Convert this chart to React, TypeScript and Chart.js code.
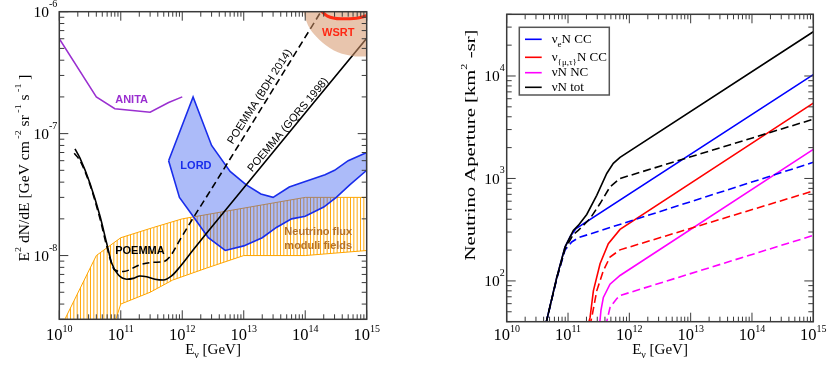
import React, { useEffect, useRef } from "react";
import { Chart, registerables } from "chart.js";

Chart.register(...registerables);

// ================= LEFT PANEL DATA (E [GeV], E^2 dN/dE) =================
const anitaE = [1e10, 4e10, 8e10, 3e11, 6e11, 1e12];
const anitaF = [6e-7, 2e-7, 1.6e-7, 1.5e-7, 1.8e-7, 2e-7];

const lordUpperE = [6e11, 1.5e12, 3e12, 6e12, 1.1e13, 1.9e13, 3e13, 5.5e13, 1e14, 2.1e14, 3e14, 5e14, 1e15];
const lordUpperF = [6e-8, 2e-7, 8e-8, 4.9e-8, 3.8e-8, 3.2e-8, 3e-8, 3.65e-8, 4.05e-8, 4.6e-8, 5e-8, 6e-8, 7e-8];
const lordLowerE = [6e11, 9e11, 1.5e12, 2.65e12, 5e12, 1e13, 2e13, 3.4e13, 6e13, 1e14, 2e14, 3.2e14, 5.3e14, 1e15];
const lordLowerF = [6e-8, 3e-8, 2.1e-8, 1.4e-8, 1.1e-8, 1.2e-8, 1.4e-8, 1.7e-8, 2e-8, 2.1e-8, 2.5e-8, 3e-8, 3.8e-8, 5e-8];

const bandUpperE = [1.03e10, 4e10, 1e11, 3.4e11, 1e12, 1e14, 1e15];
const bandUpperF = [2.5e-9, 1e-8, 1.4e-8, 1.7e-8, 2e-8, 3e-8, 3e-8];
const bandLowerE = [7.4e10, 1e11, 3e11, 7e11, 2.5e12, 1e13, 1e14, 1e15];
const bandLowerF = [2.5e-9, 4e-9, 5e-9, 6.3e-9, 7.9e-9, 1e-8, 1e-8, 1.1e-8];

const gqrsE = [1.8e10, 2.17e10, 3.16e10, 4.6e10, 5.9e10, 7.1e10, 9.1e10, 1.25e11, 1.6e11, 2.05e11, 2.64e11, 3.6e11, 4.9e11, 6.7e11, 9.2e11, 1.5e12, 2.5e12, 1e15];
const gqrsF = [7.5e-8, 6.3e-8, 3.9e-8, 2.1e-8, 1.26e-8, 8.7e-9, 6.95e-9, 6.4e-9, 6.5e-9, 6.8e-9, 6.7e-9, 6.4e-9, 6.3e-9, 6.8e-9, 8.1e-9, 1.11e-8, 1.53e-8, 6.05e-7];

const bdhE = [1.75e10, 2.17e10, 3.16e10, 4.6e10, 5.9e10, 8e10, 1.1e11, 2.05e11, 3.4e11, 4.9e11, 6.3e11, 9.2e11, 1.5e12, 2.5e12, 1.8e14];
const bdhF = [6.9e-8, 6.0e-8, 3.8e-8, 2.0e-8, 1.2e-8, 7.6e-9, 7.4e-9, 8.4e-9, 8.8e-9, 8.9e-9, 9.8e-9, 1.35e-8, 2.03e-8, 3.05e-8, 1e-6];

const wsrtE = [1.8e14, 2.3e14, 3.8e14, 6.8e14, 1e15];
const wsrtF = [1.02e-6, 9.2e-7, 8.75e-7, 8.85e-7, 9.25e-7];
const wsrtRegionE = [8.5e13, 9.3e13, 1.2e14, 1.9e14, 3.4e14, 6.5e14, 1e15, 1.5e15, 1.5e15, 8.5e13];
const wsrtRegionF = [1.3e-6, 1e-6, 7.2e-7, 5.6e-7, 4.65e-7, 4.3e-7, 4.3e-7, 4.3e-7, 2e-6, 2e-6];

// ================= RIGHT PANEL DATA (E [GeV], aperture km^2 sr) =================
const totE = [4.35e10, 6.55e10, 8.93e10, 1.22e11, 1.47e11, 2.02e11, 2.94e11, 4.28e11, 5.48e11, 7.05e11, 1e15];
const totA = [38, 108, 214, 311, 348, 445, 685, 1119, 1403, 1607, 2.7e4];
const totDashE = [4.35e10, 6.55e10, 8.93e10, 1.22e11, 1.47e11, 2.29e11, 3.33e11, 4.84e11, 7.05e11, 1e15];
const totDashA = [38, 106, 205, 285, 311, 406, 569, 828, 1000, 3785];
const eccE = [4.35e10, 6.55e10, 8.93e10, 1.1e11, 1.35e11, 1e15];
const eccA = [38, 108, 214, 275, 325, 1.03e4];
const eccDashE = [4.35e10, 6.55e10, 8.93e10, 1.15e11, 1.5e11, 1e15];
const eccDashA = [38, 105, 200, 240, 265, 1436];
const mtE = [2.1e11, 2.29e11, 2.59e11, 3.33e11, 4.54e11, 7.05e11, 1e15];
const mtA = [36, 44, 80, 147, 231, 318, 5430];
const mtDashE = [2.25e11, 2.44e11, 2.94e11, 3.77e11, 4.84e11, 7.05e11, 1e15];
const mtDashA = [36, 44, 80, 126, 171, 201, 755];
const ncE = [3.25e11, 3.45e11, 3.77e11, 4.84e11, 7.05e11, 1e15];
const ncA = [36, 52, 69, 93, 113, 1923];
const ncDashE = [4.1e11, 4.84e11, 6.22e11, 7.05e11, 1e15];
const ncDashA = [36, 55, 67, 72, 278];

// ================= AXES =================
const xDecades = [10, 11, 12, 13, 14, 15];
const leftYDecades = [-8, -7, -6];
const rightYDecades = [2, 3, 4];
const leftXRange = [1e10, 1e15];
const leftYRange = [3e-9, 1e-6];
const rightYRange = [40, 40000];

type Seg = { t: string; k?: "sup" | "sub" };

const SERIF = '"Liberation Serif", "Times New Roman", serif';
const SANS = '"Liberation Sans", Arial, sans-serif';

const xTitleSegs: Seg[] = [{ t: "E" }, { t: "\u03bd", k: "sub" }, { t: " [GeV]" }];
const leftYTitleSegs: Seg[] = [
  { t: "E" }, { t: "2", k: "sup" }, { t: " dN/dE [GeV cm" }, { t: " -2", k: "sup" },
  { t: " sr" }, { t: " -1", k: "sup" }, { t: " s" }, { t: " -1", k: "sup" }, { t: " ]" },
];
const rightYTitleSegs: Seg[] = [{ t: "Neutrino Aperture [km" }, { t: "2", k: "sup" }, { t: " -sr]" }];

const legendSegs: Seg[][] = [
  [{ t: "\u03bd" }, { t: "e", k: "sub" }, { t: "N CC" }],
  [{ t: "\u03bd" }, { t: "{\u03bc,\u03c4}", k: "sub" }, { t: "N CC" }],
  [{ t: "\u03bdN NC" }],
  [{ t: "\u03bdN tot" }],
];

type Note = { text: string; e: number; f: number; color: string; bold: boolean; rot?: number };
const leftNotes: Note[] = [
  { text: "ANITA", e: 1.5e11, f: 1.89e-7, color: "#9a2fd0", bold: true },
  { text: "LORD", e: 1.67e12, f: 5.45e-8, color: "rgb(25,45,235)", bold: true },
  { text: "POEMMA", e: 2.05e11, f: 1.1e-8, color: "#000", bold: true },
  { text: "Neutrino flux", e: 1.63e14, f: 1.56e-8, color: "#b4722a", bold: true },
  { text: "moduli fields", e: 1.63e14, f: 1.19e-8, color: "#b4722a", bold: true },
  { text: "WSRT", e: 3.44e14, f: 6.65e-7, color: "rgb(255,40,20)", bold: true },
  { text: "POEMMA (BDH 2014)", e: 1.83e13, f: 2.01e-7, color: "#000", bold: false, rot: -57.5 },
  { text: "POEMMA (GQRS 1998)", e: 5.3e13, f: 1.18e-7, color: "#000", bold: false, rot: -50 },
];

function pts(xs: number[], ys: number[]) {
  return xs.map((x, i) => ({ x, y: ys[i] }));
}
function polygon(ux: number[], uy: number[], lx: number[], ly: number[]) {
  return [...pts(ux, uy), ...pts(lx, ly).reverse()];
}

function fontFor(seg: Seg, size: number, family: string, small: number) {
  return `${seg.k ? small : size}px ${family}`;
}
function richWidth(ctx: CanvasRenderingContext2D, segs: Seg[], size: number, family: string, small: number) {
  let w = 0;
  for (const s of segs) {
    ctx.font = fontFor(s, size, family, small);
    w += ctx.measureText(s.t).width;
  }
  return w;
}
type RichOpt = { size: number; small: number; family: string; align: "left" | "center" | "right"; sup: number; sub: number };
function drawRich(ctx: CanvasRenderingContext2D, segs: Seg[], x: number, y: number, o: RichOpt) {
  const w = richWidth(ctx, segs, o.size, o.family, o.small);
  let cx = o.align === "center" ? x - w / 2 : o.align === "right" ? x - w : x;
  ctx.textAlign = "left";
  ctx.textBaseline = "alphabetic";
  for (const s of segs) {
    ctx.font = fontFor(s, o.size, o.family, o.small);
    const dy = s.k === "sup" ? -o.sup : s.k === "sub" ? o.sub : 0;
    ctx.fillText(s.t, cx, y + dy);
    cx += ctx.measureText(s.t).width;
  }
  return w;
}

function logTicks(min: number, max: number) {
  const out: { v: number; major: boolean }[] = [];
  const k0 = Math.floor(Math.log10(min) + 1e-9);
  const k1 = Math.ceil(Math.log10(max) - 1e-9);
  for (let k = k0; k <= k1; k++) {
    for (let m = 1; m <= 9; m++) {
      const v = m * Math.pow(10, k);
      if (v >= min * 0.9999 && v <= max * 1.0001) out.push({ v, major: m === 1 });
    }
  }
  return out;
}

type PanelCfg = {
  yDecades: number[];
  yTitle: Seg[];
  yTitleX: number;
  yTitleY: number;
  yTitleLen: number;
  yTitleSize: number;
};

function axesPlugin(cfg: PanelCfg) {
  return {
    id: "frameAxes",
    afterDraw(chart: any) {
      const ctx: CanvasRenderingContext2D = chart.ctx;
      const a = chart.chartArea;
      const xs = chart.scales.x;
      const ys = chart.scales.y;
      ctx.save();
      ctx.strokeStyle = "#3a3a3a";
      ctx.lineWidth = 1;
      ctx.beginPath();
      for (const t of logTicks(xs.min, xs.max)) {
        const px = xs.getPixelForValue(t.v);
        const L = t.major ? 9 : 5;
        ctx.moveTo(px, a.bottom);
        ctx.lineTo(px, a.bottom - L);
        ctx.moveTo(px, a.top);
        ctx.lineTo(px, a.top + L);
      }
      for (const t of logTicks(ys.min, ys.max)) {
        const py = ys.getPixelForValue(t.v);
        const L = t.major ? 9 : 5;
        ctx.moveTo(a.left, py);
        ctx.lineTo(a.left + L, py);
        ctx.moveTo(a.right, py);
        ctx.lineTo(a.right - L, py);
      }
      ctx.stroke();
      ctx.lineWidth = 1.5;
      ctx.strokeRect(a.left, a.top, a.right - a.left, a.bottom - a.top);

      ctx.fillStyle = "#000";
      const tickOpt: RichOpt = { size: 16.5, small: 10, family: SERIF, align: "center", sup: 8, sub: 0 };
      for (const e of xDecades) {
        const px = xs.getPixelForValue(Math.pow(10, e));
        drawRich(ctx, [{ t: "10" }, { t: String(e), k: "sup" }], px, 340, tickOpt);
      }
      for (const e of cfg.yDecades) {
        const py = ys.getPixelForValue(Math.pow(10, e));
        drawRich(ctx, [{ t: "10" }, { t: String(e), k: "sup" }], a.left - 2, py + 5.5, { ...tickOpt, size: 15.5, align: "right", sup: 10.5 });
      }
      drawRich(ctx, xTitleSegs, (a.left + a.right) / 2, 354, { size: 15, small: 10, family: SERIF, align: "center", sup: 0, sub: 3.5 });

      // rotated y title
      ctx.save();
      ctx.translate(cfg.yTitleX, cfg.yTitleY);
      ctx.rotate(-Math.PI / 2);
      const w = richWidth(ctx, cfg.yTitle, cfg.yTitleSize, SERIF, 9);
      ctx.scale(cfg.yTitleLen / w, 1);
      drawRich(ctx, cfg.yTitle, 0, 0, { size: cfg.yTitleSize, small: 9, family: SERIF, align: "center", sup: 8, sub: 3 });
      ctx.restore();
      ctx.restore();
    },
  };
}

const notesPlugin = {
  id: "notes",
  afterDatasetsDraw(chart: any) {
    const ctx: CanvasRenderingContext2D = chart.ctx;
    const xs = chart.scales.x;
    const ys = chart.scales.y;
    ctx.save();
    for (const n of leftNotes) {
      const px = xs.getPixelForValue(n.e);
      const py = ys.getPixelForValue(n.f);
      ctx.save();
      ctx.translate(px, py);
      if (n.rot) ctx.rotate((n.rot * Math.PI) / 180);
      ctx.font = `${n.bold ? "bold " : ""}11px ${SANS}`;
      ctx.fillStyle = n.color;
      ctx.textAlign = "center";
      ctx.textBaseline = "middle";
      ctx.fillText(n.text, 0, 0);
      ctx.restore();
    }
    ctx.restore();
  },
};

const legendPlugin = {
  id: "customLegend",
  afterDatasetsDraw(chart: any) {
    const ctx: CanvasRenderingContext2D = chart.ctx;
    const a = chart.chartArea;
    const bx = a.left + 12.6;
    const by = a.top + 13;
    ctx.save();
    ctx.fillStyle = "#fff";
    ctx.fillRect(bx, by, 90, 67.7);
    ctx.strokeStyle = "#555";
    ctx.lineWidth = 1.5;
    ctx.strokeRect(bx, by, 90, 67.7);
    const offs = [12, 30, 45.4, 60];
    const solid = chart.data.datasets.filter((d: any) => !d.borderDash);
    legendSegs.forEach((segs, i) => {
      const y = by + offs[i];
      ctx.strokeStyle = solid[i].borderColor;
      ctx.lineWidth = 1.6;
      ctx.beginPath();
      ctx.moveTo(bx + 5.7, y);
      ctx.lineTo(bx + 22.4, y);
      ctx.stroke();
      ctx.fillStyle = "#000";
      drawRich(ctx, segs, bx + 32.4, y + 3.5, { size: 13, small: 9, family: SERIF, align: "left", sup: 5, sub: 4 });
    });
    ctx.restore();
  },
};

function makeScales(xr: number[], yr: number[], yWidth: number, xHeight: number) {
  const hidden = {
    ticks: { display: false },
    grid: { display: false, drawTicks: false },
    border: { display: false },
  };
  return {
    x: { type: "logarithmic", min: xr[0], max: xr[1], ...hidden, afterFit: (s: any) => { s.height = xHeight; } },
    y: { type: "logarithmic", min: yr[0], max: yr[1], ...hidden, afterFit: (s: any) => { s.width = yWidth; } },
  };
}

function line(data: any[], color: string, width: number, order: number, extra: any = {}) {
  return {
    data,
    borderColor: color,
    backgroundColor: color,
    borderWidth: width,
    pointRadius: 0,
    fill: false,
    tension: 0,
    order,
    clip: 0,
    ...extra,
  };
}

function makeLeft(canvas: HTMLCanvasElement) {
  const ctx = canvas.getContext("2d")!;
  const pc = document.createElement("canvas");
  pc.width = 10;
  pc.height = 10;
  const pctx = pc.getContext("2d")!;
  pctx.strokeStyle = "rgba(255,165,0,0.95)";
  pctx.lineWidth = 1;
  for (const x of [0.5, 3.83, 7.17]) {
    pctx.beginPath();
    pctx.moveTo(x, 0);
    pctx.lineTo(x, 10);
    pctx.stroke();
  }
  const hatch = ctx.createPattern(pc, "repeat");

  const datasets = [
    line(pts(wsrtE, wsrtF), "rgb(255,45,20)", 3, 0, { cubicInterpolationMode: "monotone" }),
    line(polygon(wsrtRegionE, wsrtRegionF, [], []), "rgba(0,0,0,0)", 0, 1, {
      fill: "shape",
      backgroundColor: "rgba(214,150,105,0.55)",
      tension: 0.3,
    }),
    line(pts(bdhE, bdhF), "#000", 1.6, 2, { borderDash: [7, 4], cubicInterpolationMode: "monotone" }),
    line(pts(gqrsE, gqrsF), "#000", 1.6, 3, { cubicInterpolationMode: "monotone" }),
    line(pts(anitaE, anitaF), "#9a2fd0", 1.5, 4),
    line(polygon(lordUpperE, lordUpperF, lordLowerE, lordLowerF), "rgb(25,45,235)", 1.6, 5, {
      fill: "shape",
      backgroundColor: "rgba(40,80,240,0.39)",
    }),
    line(polygon(bandUpperE, bandUpperF, bandLowerE, bandLowerF), "#ffa500", 1, 6, {
      fill: "shape",
      backgroundColor: hatch,
    }),
  ];

  return new Chart(canvas, {
    type: "line",
    data: { datasets } as any,
    options: {
      animation: false,
      responsive: false,
      devicePixelRatio: 1,
      events: [],
      layout: { padding: { left: 0, right: 48.3, top: 11.7, bottom: 0 } },
      plugins: { legend: { display: false }, tooltip: { enabled: false } },
      scales: makeScales(leftXRange, leftYRange, 59.3, 51.7) as any,
      elements: { point: { radius: 0 } },
    },
    plugins: [
      notesPlugin,
      axesPlugin({ yDecades: leftYDecades, yTitle: leftYTitleSegs, yTitleX: 29, yTitleY: 168, yTitleLen: 187, yTitleSize: 14 }),
    ],
  });
}

function makeRight(canvas: HTMLCanvasElement) {
  const dash = [8, 4];
  const datasets = [
    line(pts(eccE, eccA), "#0000ff", 1.6, 2),
    line(pts(mtE, mtA), "#ff0000", 1.6, 4),
    line(pts(ncE, ncA), "#ff00ff", 1.6, 6),
    line(pts(totE, totA), "#000000", 1.6, 0),
    line(pts(totDashE, totDashA), "#000000", 1.6, 1, { borderDash: dash }),
    line(pts(eccDashE, eccDashA), "#0000ff", 1.6, 3, { borderDash: dash }),
    line(pts(mtDashE, mtDashA), "#ff0000", 1.6, 5, { borderDash: dash }),
    line(pts(ncDashE, ncDashA), "#ff00ff", 1.6, 7, { borderDash: dash }),
  ];
  return new Chart(canvas, {
    type: "line",
    data: { datasets } as any,
    options: {
      animation: false,
      responsive: false,
      devicePixelRatio: 1,
      events: [],
      layout: { padding: { left: 0, right: 16.7, top: 14.3, bottom: 0 } },
      plugins: { legend: { display: false }, tooltip: { enabled: false } },
      scales: makeScales(leftXRange, rightYRange, 91.7, 49.3) as any,
      elements: { point: { radius: 0 } },
    },
    plugins: [
      legendPlugin,
      axesPlugin({ yDecades: rightYDecades, yTitle: rightYTitleSegs, yTitleX: 60, yTitleY: 145, yTitleLen: 231, yTitleSize: 15 }),
    ],
  });
}

export default function App() {
  const leftRef = useRef<HTMLCanvasElement>(null);
  const rightRef = useRef<HTMLCanvasElement>(null);
  useEffect(() => {
    const c1 = makeLeft(leftRef.current!);
    const c2 = makeRight(rightRef.current!);
    return () => {
      c1.destroy();
      c2.destroy();
    };
  }, []);
  return (
    <div style={{ position: "absolute", left: 0, top: 0, width: 830, height: 371, background: "#fff" }}>
      <canvas ref={leftRef} width={415} height={371} style={{ position: "absolute", left: 0, top: 0 }} />
      <canvas ref={rightRef} width={415} height={371} style={{ position: "absolute", left: 415, top: 0 }} />
    </div>
  );
}
